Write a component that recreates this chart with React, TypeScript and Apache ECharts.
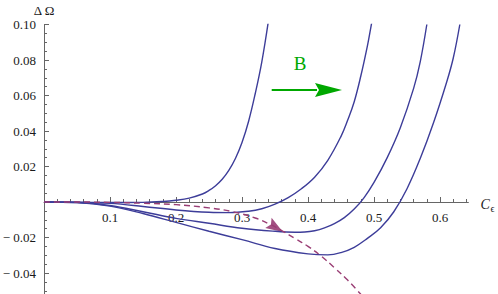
import React, { useEffect, useRef } from 'react';
import * as echarts from 'echarts';

// Curve data
const c1X = [0, 0.05, 0.1, 0.15, 0.18, 0.2, 0.22, 0.24, 0.25, 0.26, 0.27, 0.28, 0.29, 0.3, 0.31, 0.32, 0.33, 0.34];
const c1Y = [0, -0.0001, -0.0003, -0.0002, 0.0003, 0.001, 0.0022, 0.0045, 0.0065, 0.0092, 0.0128, 0.0178, 0.0245, 0.0335, 0.0455, 0.061, 0.079, 0.102];

const c2X = [0, 0.05, 0.1, 0.15, 0.2, 0.25, 0.28, 0.31, 0.33, 0.35, 0.37, 0.39, 0.41, 0.43, 0.45, 0.46, 0.47, 0.48, 0.49, 0.495, 0.5];
const c2Y = [0, -0.0002, -0.0008, -0.0025, -0.0045, -0.0058, -0.006, -0.0052, -0.0038, -0.0012, 0.0025, 0.0075, 0.014, 0.0235, 0.037, 0.046, 0.0565, 0.071, 0.088, 0.098, 0.108];

const c3X = [0, 0.05, 0.1, 0.15, 0.2, 0.25, 0.3, 0.35, 0.38, 0.395, 0.41, 0.425, 0.44, 0.455, 0.47, 0.485, 0.5, 0.52, 0.54, 0.56, 0.57, 0.58];
const c3Y = [0, -0.0003, -0.002, -0.0055, -0.0092, -0.012, -0.0148, -0.0165, -0.017, -0.0169, -0.0162, -0.0146, -0.0122, -0.0088, -0.004, 0.0025, 0.011, 0.025, 0.042, 0.064, 0.079, 0.1];

const c4X = [0, 0.05, 0.1, 0.15, 0.2, 0.25, 0.3, 0.35, 0.4, 0.43, 0.45, 0.47, 0.49, 0.51, 0.53, 0.55, 0.57, 0.59, 0.61, 0.62, 0.63];
const c4Y = [0, -0.0003, -0.0023, -0.0065, -0.0115, -0.0165, -0.0212, -0.0262, -0.0292, -0.0298, -0.0285, -0.0255, -0.0205, -0.0145, -0.0055, 0.0075, 0.0245, 0.0445, 0.0675, 0.081, 0.1];

const dX = [0, 0.05, 0.1, 0.15, 0.2, 0.25, 0.286, 0.32, 0.342, 0.362, 0.38, 0.4, 0.42, 0.44, 0.46, 0.48];
const dY = [0, 0, -0.0002, -0.0007, -0.0015, -0.0033, -0.0055, -0.009, -0.0125, -0.0165, -0.0205, -0.025, -0.0305, -0.037, -0.044, -0.052];

const xTicks = [0.1, 0.2, 0.3, 0.4, 0.5, 0.6];

// Annotations (data coordinates)
const greenFrom = [0.345, 0.0631];
const greenTo = [0.4515, 0.0631];
const bLabelPos = [0.388, 0.0783];
const purpleTip = [0.362, -0.0169];
const purpleBase = [0.34, -0.0118];
const xAxisEnd = [0.643, 0];

const BLUE = '#3d3d99';
const PURPLE = '#993d74';
const GREEN = '#00a800';
const FONT = 'Liberation Serif, Times New Roman, serif';

const zip = (xs: number[], ys: number[]) => xs.map((x, i) => [x, ys[i]]);

export default function App() {
  const ref = useRef<HTMLDivElement>(null);
  useEffect(() => {
    if (!ref.current) return;
    const chart = echarts.init(ref.current, undefined, { renderer: 'svg' });
    const blueSeries = [
      zip(c1X, c1Y),
      zip(c2X, c2Y),
      zip(c3X, c3Y),
      zip(c4X, c4Y),
    ].map((data) => ({
      type: 'line',
      data,
      smooth: 0.4,
      symbol: 'none',
      lineStyle: { color: BLUE, width: 1.4 },
    }));
    chart.setOption({
      animation: false,
      backgroundColor: '#ffffff',
      grid: { left: 44, right: 29.6, top: 24.5, bottom: -14.5, containLabel: false, outerBoundsMode: 'none' },
      xAxis: {
        type: 'value',
        min: 0,
        max: 0.643,
        interval: 0.1,
        position: 'bottom',
        axisLine: { onZero: true, lineStyle: { color: '#666', width: 1 } },
        axisTick: { show: true, inside: true, length: 5, customValues: xTicks, lineStyle: { color: '#666' } },
        minorTick: { show: true, splitNumber: 5, length: 3, lineStyle: { color: '#666' } },
        splitLine: { show: false },
        axisLabel: { show: false },
      },
      yAxis: {
        type: 'value',
        min: -0.06,
        max: 0.1,
        interval: 0.02,
        name: 'Δ\u2009Ω',
        nameLocation: 'end',
        nameGap: 8,
        nameTextStyle: { color: '#1a1a1a', fontFamily: FONT, fontSize: 13, align: 'center' },
        axisLine: { show: true, onZero: false, lineStyle: { color: '#666', width: 1 } },
        axisTick: { show: true, inside: true, length: 5, lineStyle: { color: '#666' } },
        minorTick: { show: true, splitNumber: 4, length: 3, lineStyle: { color: '#666' } },
        splitLine: { show: false },
        axisLabel: {
          formatter: (v: number) => {
            if (Math.abs(v) < 1e-9 || v < -0.05) return '';
            if (v < 0) return '\u2212 ' + Math.abs(v).toFixed(2);
            return v.toFixed(2);
          },
          color: '#1a1a1a',
          fontFamily: FONT,
          fontSize: 13,
          margin: 8,
        },
      },
      series: [
        ...blueSeries,
        {
          type: 'line',
          data: zip(dX, dY),
          smooth: 0.4,
          symbol: 'none',
          lineStyle: { color: PURPLE, width: 1.4, type: [6, 4] },
        },
      ],
    });

    const p = (v: number[]) => chart.convertToPixel({ gridIndex: 0 }, v) as number[];
    const gs = p(greenFrom);
    const ge = p(greenTo);
    const headLen = 27;
    const headHalf = 7;
    const bp = p(bLabelPos);
    const pt = p(purpleTip);
    const pb = p(purpleBase);
    const dx = pt[0] - pb[0];
    const dy = pt[1] - pb[1];
    const len = Math.hypot(dx, dy) || 1;
    const nx = -dy / len;
    const ny = dx / len;
    const ph = 6;
    const ae = p(xAxisEnd);

    const xLabelTexts = xTicks.map((v) => {
      const q = p([v, 0]);
      return {
        type: 'text',
        x: q[0],
        y: q[1] + 15,
        style: { text: v.toFixed(1), fill: '#1a1a1a', font: '13px ' + FONT, align: 'center', verticalAlign: 'middle' },
        silent: true,
      };
    });

    chart.setOption({
      graphic: [
        ...xLabelTexts,
        {
          type: 'line',
          shape: { x1: gs[0], y1: gs[1], x2: ge[0] - headLen + 2, y2: ge[1] },
          style: { stroke: GREEN, lineWidth: 2 },
          silent: true,
        },
        {
          type: 'polygon',
          shape: {
            points: [
              [ge[0], ge[1]],
              [ge[0] - headLen, ge[1] - headHalf],
              [ge[0] - headLen + 4, ge[1]],
              [ge[0] - headLen, ge[1] + headHalf],
            ],
          },
          style: { fill: GREEN },
          silent: true,
        },
        {
          type: 'text',
          x: bp[0],
          y: bp[1],
          style: { text: 'B', fill: GREEN, font: '19px ' + FONT, align: 'center', verticalAlign: 'middle' },
          silent: true,
        },
        {
          type: 'polygon',
          shape: {
            points: [
              [pt[0], pt[1]],
              [pb[0] + nx * ph, pb[1] + ny * ph],
              [pb[0] + dx / len * 3, pb[1] + dy / len * 3],
              [pb[0] - nx * ph, pb[1] - ny * ph],
            ],
          },
          style: { fill: '#a24f82' },
          silent: true,
        },
        {
          type: 'text',
          x: ae[0] + 12,
          y: ae[1] + 2,
          style: { text: 'C', fill: '#1a1a1a', font: 'italic 14px ' + FONT, align: 'left', verticalAlign: 'middle' },
          silent: true,
        },
        {
          type: 'text',
          x: ae[0] + 22,
          y: ae[1] + 6,
          style: { text: 'ϵ', fill: '#1a1a1a', font: '10px ' + FONT, align: 'left', verticalAlign: 'middle' },
          silent: true,
        },
      ],
    });

    return () => chart.dispose();
  }, []);
  return (
    <div
      ref={ref}
      style={{ position: 'fixed', left: 0, top: 0, width: 498, height: 294, background: '#fff' }}
    />
  );
}
